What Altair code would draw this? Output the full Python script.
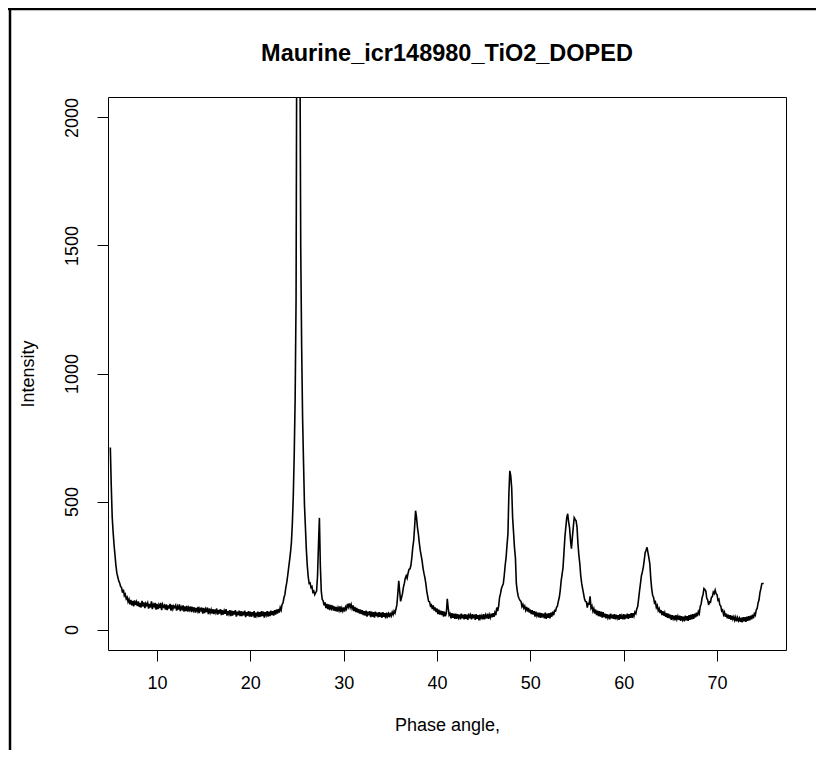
import altair as alt
import pandas as pd

title_text = "Maurine_icr148980_TiO2_DOPED"
x_title = "Phase angle,"
y_title = "Intensity"

# diffraction pattern sampled every 0.1 degree from 5.0 to 75.0
angle_start = 5.0
angle_step = 0.1
intensity = [
    711, 560, 440, 380, 330, 290, 250, 220, 205, 190,   # 5
    182, 168, 164, 144, 156, 132, 138, 120, 126, 108,   # 6
    118, 98, 116, 94, 112, 90, 114, 96, 108, 92,        # 7
    110, 88, 104, 86, 112, 90, 106, 84, 102, 94,        # 8
    104, 82, 100, 86, 110, 80, 98, 90, 104, 78,         # 9
    100, 80, 96, 84, 104, 76, 98, 88, 94, 78,           # 10
    98, 76, 94, 82, 100, 74, 96, 80, 92, 86,            # 11
    94, 74, 90, 78, 98, 72, 88, 80, 94, 70,             # 12
    90, 72, 92, 70, 86, 76, 90, 68, 88, 74,             # 13
    86, 66, 84, 72, 88, 64, 82, 74, 86, 62,             # 14
    84, 64, 80, 68, 86, 60, 82, 66, 78, 62,             # 15
    80, 60, 78, 66, 82, 58, 76, 62, 80, 56,             # 16
    76, 58, 74, 62, 80, 54, 72, 60, 76, 52,             # 17
    74, 54, 72, 58, 76, 50, 70, 56, 74, 52,             # 18
    72, 52, 70, 56, 74, 48, 68, 54, 72, 50,             # 19
    70, 50, 68, 56, 72, 46, 66, 54, 70, 48,             # 20
    68, 50, 72, 52, 70, 46, 68, 56, 72, 50,             # 21
    70, 52, 74, 56, 72, 54, 76, 58, 78, 62,             # 22
    80, 66, 86, 76, 98, 104, 124, 136, 164, 183,        # 23
    210, 240, 269, 300, 340, 413, 520, 680, 900, 1290,  # 24
    2700, 3200, 3000, 2400, 1486, 1100, 824, 650, 486, 400,  # 25
    313, 250, 206, 180, 182, 164, 168, 146, 150, 136,   # 26
    144, 150, 210, 330, 436, 250, 150, 118, 112, 94,    # 27
    106, 84, 100, 80, 98, 76, 96, 82, 94, 74,           # 28
    90, 72, 88, 70, 86, 74, 90, 68, 84, 72,             # 29
    86, 70, 88, 80, 100, 88, 102, 86, 98, 82,           # 30
    94, 72, 88, 68, 84, 66, 80, 62, 78, 60,             # 31
    76, 56, 72, 54, 74, 50, 70, 56, 72, 48,             # 32
    70, 50, 68, 46, 70, 52, 66, 48, 68, 50,             # 33
    66, 46, 68, 50, 64, 44, 66, 52, 62, 48,             # 34
    66, 54, 68, 58, 72, 64, 80, 96, 140, 190,           # 35
    150, 110, 125, 140, 165, 180, 200, 210, 200, 220,   # 36
    235, 237, 250, 280, 320, 347, 400, 464, 440, 400,   # 37
    374, 340, 310, 290, 269, 240, 220, 203, 180, 150,   # 38
    130, 110, 108, 92, 96, 80, 94, 74, 86, 68,          # 39
    82, 60, 78, 58, 74, 56, 72, 50, 70, 52,             # 40
    64, 120, 84, 56, 62, 44, 64, 46, 62, 42,            # 41
    62, 42, 60, 46, 58, 40, 62, 44, 58, 40,             # 42
    60, 42, 58, 38, 62, 44, 56, 40, 60, 44,             # 43
    58, 38, 60, 42, 56, 36, 58, 44, 54, 40,             # 44
    60, 40, 56, 44, 62, 42, 58, 46, 62, 48,             # 45
    64, 50, 66, 56, 86, 72, 90, 125, 140, 160,          # 46
    170, 179, 210, 250, 281, 330, 374, 530, 620, 600,   # 47
    554, 437, 380, 320, 281, 179, 150, 130, 120, 113,   # 48
    110, 90, 98, 84, 92, 76, 88, 70, 84, 66,            # 49
    78, 60, 76, 58, 72, 50, 70, 54, 66, 48,             # 50
    66, 46, 64, 48, 62, 44, 66, 42, 62, 46,             # 51
    64, 44, 66, 50, 70, 56, 74, 72, 86, 92,             # 52
    110, 125, 152, 190, 215, 242, 300, 360, 400, 437,   # 53
    452, 420, 398, 350, 316, 360, 400, 437, 430, 425,   # 54
    400, 335, 290, 257, 210, 180, 160, 140, 120, 110,   # 55
    108, 86, 102, 100, 130, 84, 92, 72, 82, 62,         # 56
    78, 56, 74, 52, 72, 50, 70, 46, 68, 48,             # 57
    62, 44, 60, 46, 58, 40, 62, 44, 58, 42,             # 58
    60, 40, 58, 44, 56, 38, 60, 42, 54, 40,             # 59
    60, 40, 58, 44, 62, 42, 60, 46, 64, 46,             # 60
    64, 52, 68, 62, 80, 90, 120, 152, 180, 210,         # 61
    225, 243, 270, 300, 310, 321, 300, 280, 257, 200,   # 62
    160, 134, 126, 104, 108, 86, 94, 74, 82, 64,        # 63
    76, 56, 72, 54, 66, 50, 64, 46, 62, 44,             # 64
    58, 38, 56, 42, 54, 36, 56, 40, 52, 38,             # 65
    54, 34, 52, 38, 50, 32, 54, 36, 52, 34,             # 66
    56, 38, 58, 40, 60, 42, 62, 48, 66, 52,             # 67
    70, 62, 90, 100, 124, 136, 160, 156, 150, 122,      # 68
    116, 96, 108, 106, 126, 128, 146, 140, 154, 140,    # 69
    136, 114, 118, 96, 92, 72, 76, 58, 68, 50,          # 70
    62, 44, 58, 42, 56, 38, 54, 40, 50, 36,             # 71
    48, 32, 46, 34, 44, 30, 46, 28, 48, 32,             # 72
    48, 30, 50, 34, 52, 36, 54, 40, 58, 44,             # 73
    62, 56, 76, 82, 104, 116, 144, 160, 179, 180,       # 74
    180,                                                # 75
]

x_ticks = [10, 20, 30, 40, 50, 60, 70]
y_ticks = [0, 500, 1000, 1500, 2000]
x_domain = [4.75, 77.39]
y_domain = [-80, 2080]

angles = [round(angle_start + i * angle_step, 1) for i in range(len(intensity))]
df = pd.DataFrame({"angle": angles, "intensity": intensity})
one = pd.DataFrame({"k": [0]})

PLOT_W, PLOT_H = 678, 553
FONT = "Liberation Sans"

line = alt.Chart(df).mark_line(color="black", strokeWidth=1.6, clip=True).encode(
    x=alt.X(
        "angle:Q",
        scale=alt.Scale(domain=x_domain, nice=False, zero=False),
        axis=alt.Axis(
            values=x_ticks, title=x_title, format="d", labelBaseline="middle",
            labelPadding=22, labelFlush=False, titleX=PLOT_W / 2, titleY=75,
            titleAlign="center", titleBaseline="middle",
        ),
    ),
    y=alt.Y(
        "intensity:Q",
        scale=alt.Scale(domain=y_domain, nice=False, zero=False),
        axis=alt.Axis(
            values=y_ticks, title=y_title, format="d", labelAngle=270,
            labelAlign="center", labelBaseline="middle", labelPadding=25,
            labelFlush=False, titleAngle=270, titleX=-80, titleY=PLOT_H / 2,
            titleAlign="center", titleBaseline="middle",
        ),
    ),
)

title_mark = alt.Chart(one).mark_text(
    text=title_text, font=FONT, fontSize=23.5, fontWeight="bold",
    align="center", baseline="middle", color="black",
).encode(x=alt.value(PLOT_W / 2), y=alt.value(-43))

frame_left = alt.Chart(one).mark_rule(color="black", strokeWidth=2.5).encode(
    x=alt.value(-98), y=alt.value(-90), y2=alt.value(PLOT_H + 100)
)
frame_top = alt.Chart(one).mark_rule(color="black", strokeWidth=2.5).encode(
    x=alt.value(-100), x2=alt.value(PLOT_W + 40), y=alt.value(-88)
)

chart = (
    alt.layer(line, title_mark, frame_left, frame_top)
    .properties(
        width=PLOT_W,
        height=PLOT_H,
        padding={"left": 100, "top": 89, "right": 30, "bottom": 100},
        autosize=alt.AutoSizeParams(type="none"),
        background="white",
    )
    .configure_view(stroke="black", strokeWidth=1)
    .configure_axis(
        domain=False, grid=False, ticks=True, tickColor="black", tickSize=11,
        tickWidth=1, labelFont=FONT, labelFontSize=18, labelColor="black",
        titleFont=FONT, titleFontSize=18, titleFontWeight="normal",
        titleColor="black", labelOverlap=False,
    )
)

chart.save("out.html", embed_options={"renderer": "svg", "actions": False})
